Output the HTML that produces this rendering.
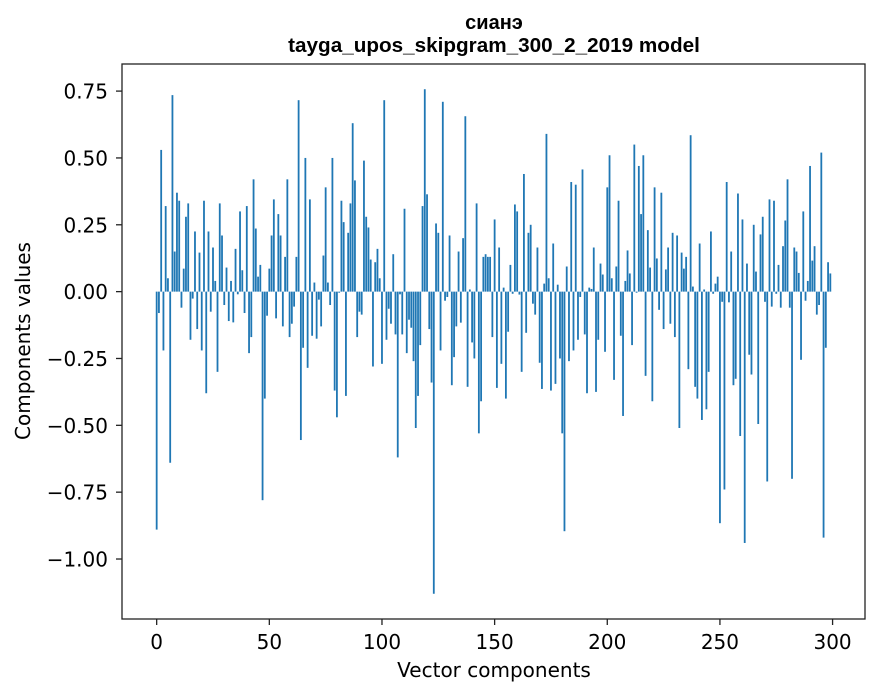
<!DOCTYPE html>
<html><head><meta charset="utf-8"><style>
html,body{margin:0;padding:0;background:#fff;}
svg{display:block;font-family:"DejaVu Sans","Liberation Sans",sans-serif;}
</style></head><body>
<svg id="chart" width="880" height="696" xmlns="http://www.w3.org/2000/svg">
<rect x="0" y="0" width="880" height="696" fill="#fff"/>
<text x="494" y="29" text-anchor="middle" font-size="20" font-weight="bold" font-family="Liberation Sans, sans-serif">сианэ</text>
<text x="494" y="52" text-anchor="middle" font-size="20.7" font-weight="bold" font-family="Liberation Sans, sans-serif">tayga_upos_skipgram_300_2_2019 model</text>
<g id="bars"></g>
<g id="xticks"></g>
<g id="yticks"></g>
<rect x="122" y="64" width="743" height="555" fill="none" stroke="#222" stroke-width="1.3"/>
<text x="494" y="677" text-anchor="middle" font-size="20">Vector components</text>
<text transform="translate(30,341) rotate(-90)" text-anchor="middle" font-size="20">Components values</text>
</svg>
<script>
const values = [
-0.89,-0.08,0.53,-0.22,0.32,0.05,-0.64,0.735,0.15,0.37,
0.34,-0.06,0.086,0.28,0.33,-0.18,-0.026,0.225,-0.14,0.146,
-0.22,0.34,-0.38,0.225,-0.075,0.165,0.04,-0.30,0.33,0.21,
-0.05,0.09,-0.11,0.04,-0.115,0.16,-0.01,0.30,0.08,-0.08,
0.32,-0.23,-0.17,0.42,0.236,0.056,0.1,-0.78,-0.40,-0.09,
0.086,0.21,0.345,-0.10,0.29,0.21,-0.13,0.13,0.42,-0.17,
-0.12,-0.056,0.13,0.716,-0.555,-0.21,0.50,-0.285,0.345,-0.165,
0.034,-0.176,-0.03,-0.13,0.135,0.39,0.034,-0.05,0.50,-0.37,
-0.47,-0.004,0.34,0.26,-0.39,0.22,0.33,0.63,0.416,-0.17,
-0.075,-0.086,0.49,0.28,0.24,0.12,-0.28,0.11,0.16,0.05,
-0.27,0.716,-0.18,-0.064,-0.12,0.14,-0.16,-0.62,-0.01,-0.16,
0.31,-0.23,-0.105,-0.135,-0.26,-0.51,-0.39,-0.2,0.32,0.757,
0.364,-0.14,-0.34,-1.13,0.255,0.22,-0.22,0.71,-0.034,-0.02,
0.21,-0.35,-0.245,-0.13,0.15,-0.116,0.2,0.656,-0.356,0.008,
-0.19,-0.25,0.33,-0.53,-0.41,0.13,0.14,0.13,0.13,-0.17,
0.27,-0.36,0.165,-0.27,0.015,-0.40,-0.15,0.1,-0.008,0.326,
0.30,-0.011,-0.30,0.44,-0.154,0.22,0.25,-0.045,-0.086,0.165,
-0.266,-0.364,0.03,0.59,0.05,-0.37,0.18,-0.345,0.026,-0.25,
-0.53,-0.896,0.094,-0.26,0.41,-0.22,0.40,-0.18,-0.02,0.457,
-0.16,-0.38,0.015,0.01,0.165,-0.375,-0.18,0.105,0.064,-0.225,
0.39,0.51,0.05,-0.33,0.094,0.34,-0.165,-0.465,0.04,0.154,
0.068,-0.2,0.55,-0.004,0.47,0.29,0.51,-0.315,0.23,0.09,
-0.41,0.39,0.124,-0.068,0.37,-0.14,0.083,0.165,-0.12,0.22,
-0.17,0.21,-0.51,0.146,0.086,0.13,-0.29,0.585,0.019,-0.356,
-0.40,0.18,-0.48,0.008,-0.44,-0.30,0.225,-0.008,0.03,0.056,
-0.866,-0.038,-0.74,0.41,-0.04,0.15,-0.35,-0.326,0.367,-0.54,
0.27,-0.94,0.105,-0.236,-0.31,0.25,0.075,-0.495,0.214,0.28,
-0.038,-0.71,0.345,-0.056,0.34,-0.008,0.1,-0.06,0.17,0.266,
0.42,-0.06,-0.70,0.165,0.15,0.07,-0.255,0.30,-0.034,0.04,
0.47,0.116,0.17,-0.086,-0.05,0.52,-0.92,-0.21,0.11,0.068
];
const xTickValues = [0,50,100,150,200,250,300];
const yTickValues = [0.75,0.5,0.25,0,-0.25,-0.5,-0.75,-1.0];
const yTickLabels = ["0.75","0.50","0.25","0.00","\u22120.25","\u22120.50","\u22120.75","\u22121.00"];

const NS = "http://www.w3.org/2000/svg";
const plotL = 122, plotR = 865, plotT = 64, plotB = 619;
const n = values.length;
const xMinD = -0.4 - 0.05*(n-1+0.8), xMaxD = (n-1)+0.4 + 0.05*(n-1+0.8);
let vmin = Math.min(0, ...values), vmax = Math.max(0, ...values);
const span = vmax - vmin;
const yMinD = vmin - 0.05*span, yMaxD = vmax + 0.05*span;
const xScale = v => plotL + (v - xMinD)/(xMaxD - xMinD)*(plotR - plotL);
const yScale = v => plotB - (v - yMinD)/(yMaxD - yMinD)*(plotB - plotT);

const barsG = document.getElementById('bars');
const bw = xScale(0.8) - xScale(0);
values.forEach((v,i) => {
  const r = document.createElementNS(NS,'rect');
  const y0 = yScale(0), y1 = yScale(v);
  r.setAttribute('x', xScale(i) - bw/2);
  r.setAttribute('y', Math.min(y0,y1));
  r.setAttribute('width', bw);
  r.setAttribute('height', Math.max(Math.abs(y1-y0), 0.5));
  r.setAttribute('fill', '#1f77b4');
  
  
  barsG.appendChild(r);
});

const xg = document.getElementById('xticks');
xTickValues.forEach(t => {
  const x = xScale(t);
  const l = document.createElementNS(NS,'line');
  l.setAttribute('x1',x); l.setAttribute('x2',x);
  l.setAttribute('y1',plotB); l.setAttribute('y2',plotB+6);
  l.setAttribute('stroke','#222'); l.setAttribute('stroke-width','1.3');
  
  
  xg.appendChild(l);
  const tx = document.createElementNS(NS,'text');
  tx.setAttribute('x',x); tx.setAttribute('y',plotB+30);
  tx.setAttribute('text-anchor','middle'); tx.setAttribute('font-size','20');
  tx.textContent = String(t);
  
  
  xg.appendChild(tx);
});

const yg = document.getElementById('yticks');
yTickValues.forEach((t,k) => {
  const y = yScale(t);
  const l = document.createElementNS(NS,'line');
  l.setAttribute('x1',plotL-6); l.setAttribute('x2',plotL);
  l.setAttribute('y1',y); l.setAttribute('y2',y);
  l.setAttribute('stroke','#222'); l.setAttribute('stroke-width','1.3');
  
  
  yg.appendChild(l);
  const tx = document.createElementNS(NS,'text');
  tx.setAttribute('x',plotL-14); tx.setAttribute('y',y+7.5);
  tx.setAttribute('text-anchor','end'); tx.setAttribute('font-size','20');
  tx.textContent = yTickLabels[k];
  
  
  yg.appendChild(tx);
});
</script>
</body></html>
